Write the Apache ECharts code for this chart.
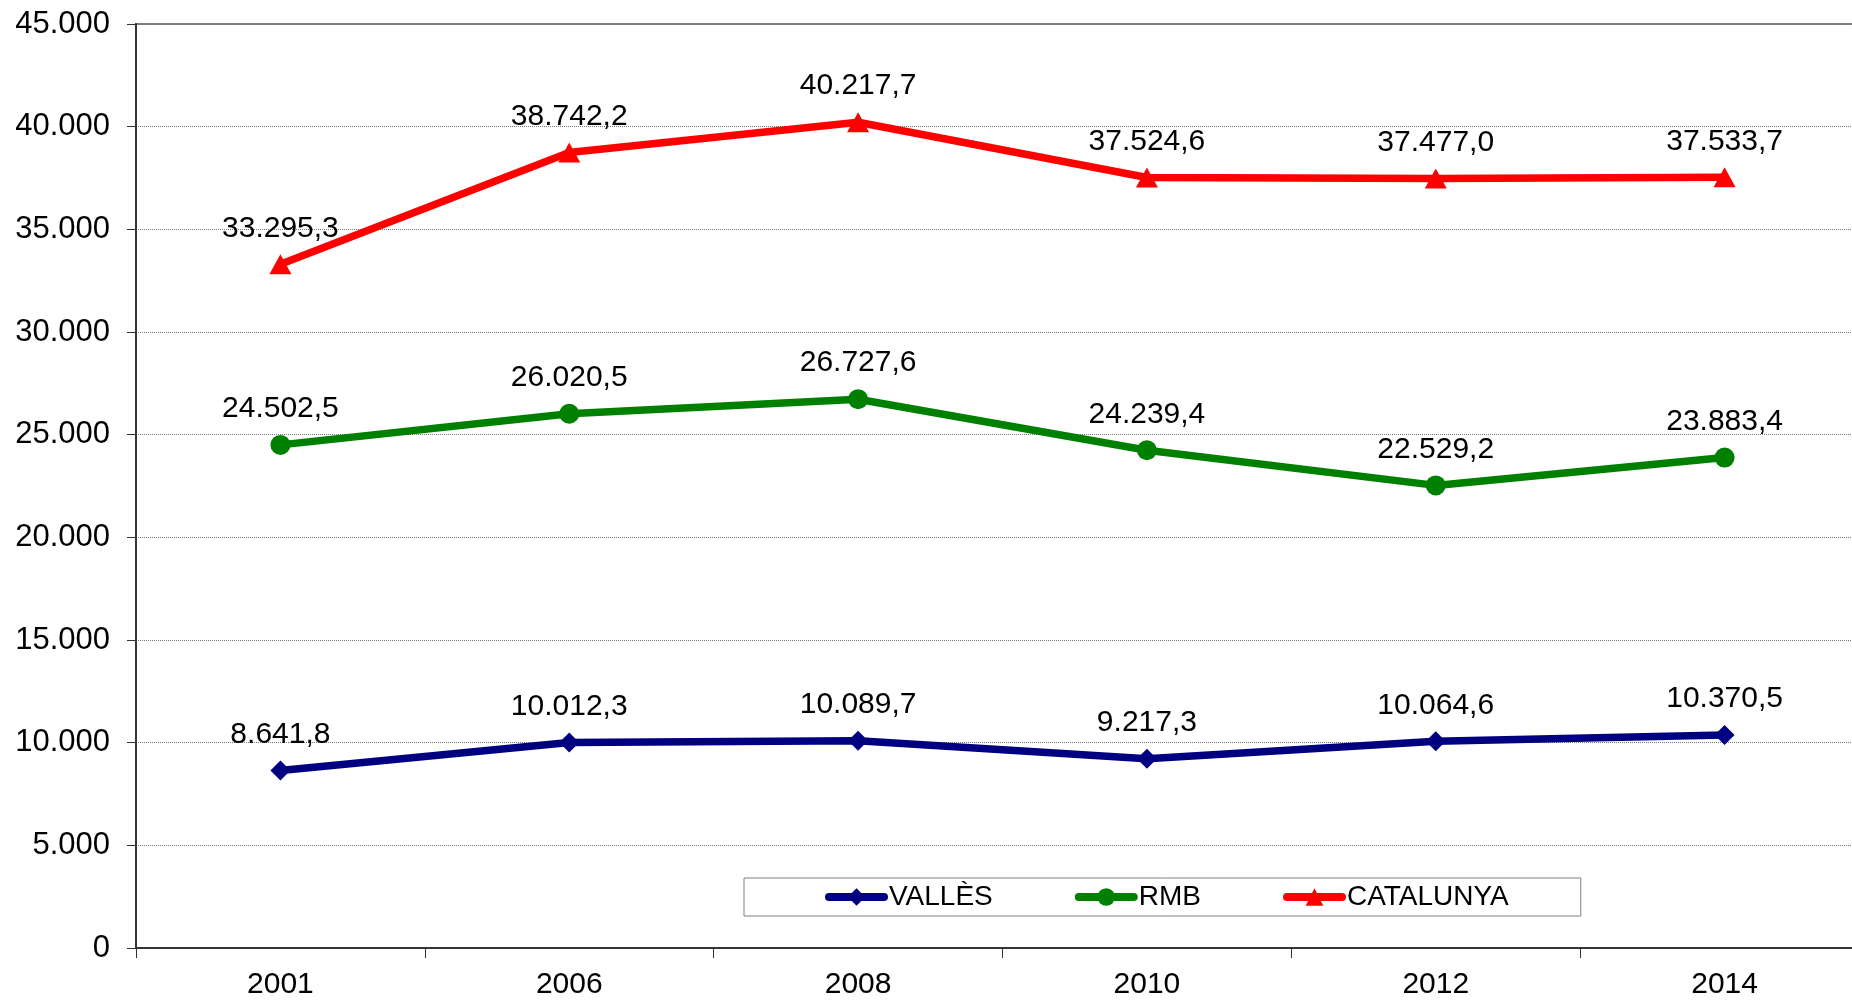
<!DOCTYPE html>
<html>
<head>
<meta charset="utf-8">
<script src="https://cdn.jsdelivr.net/npm/echarts@6/dist/echarts.min.js"></script>
<style>
  html, body { margin: 0; padding: 0; background: #fff; }
  #chart { width: 1852px; height: 1000px; }
</style>
</head>
<body>
<div id="chart"></div>
<script>
const years = ['2001', '2006', '2008', '2010', '2012', '2014']
const valles = [8641.8, 10012.3, 10089.7, 9217.3, 10064.6, 10370.5]
const rmb = [24502.5, 26020.5, 26727.6, 24239.4, 22529.2, 23883.4]
const catalunya = [33295.3, 38742.2, 40217.7, 37524.6, 37477.0, 37533.7]

const FONT = "'Liberation Sans', Arial, sans-serif"

// Spanish style number: 12.345,6
function fmt(v, decimals) {
  const parts = v.toFixed(decimals).split('.')
  const intPart = parts[0].replace(/\B(?=(\d{3})+(?!\d))/g, '.')
  return parts.length > 1 ? intPart + ',' + parts[1] : intPart
}

function lineSeries(name, data, color, symbol, size) {
  return {
    name,
    type: 'line',
    data,
    symbol,
    symbolSize: size,
    showAllSymbol: true,
    lineStyle: { color, width: 7.5 },
    itemStyle: { color },
    label: {
      show: true,
      position: 'top',
      distance: 11,
      color: '#000',
      fontFamily: FONT,
      fontSize: 30,
      formatter: (p) => fmt(p.value, 1)
    },
    emphasis: { disabled: true }
  }
}

const chart = echarts.init(document.getElementById('chart'), null, { renderer: 'canvas' })
chart.setOption({
  animation: false,
  backgroundColor: '#fff',
  grid: {
    // plot area runs slightly past the right edge of the picture
    left: 136, top: 24, bottom: 52, width: 1733,
    outerBoundsMode: 'none',
    containLabel: false,
    show: true, borderColor: '#808080', borderWidth: 2, backgroundColor: 'transparent'
  },
  legend: {
    left: 744,
    top: 878,
    padding: [5, 72, 5, 81],
    itemGap: 82,
    itemWidth: 55,
    itemHeight: 22,
    borderColor: '#808080',
    borderWidth: 1,
    backgroundColor: '#fff',
    lineStyle: { width: 8, cap: 'round' },
    textStyle: { fontFamily: FONT, fontSize: 28, color: '#000' },
    data: ['VALLÈS', 'RMB', 'CATALUNYA']
  },
  xAxis: {
    type: 'category',
    data: years,
    boundaryGap: true,
    axisLine: { lineStyle: { color: '#333', width: 2 } },
    axisTick: { show: true, length: 10, lineStyle: { color: '#333', width: 1 } },
    axisLabel: { color: '#000', fontFamily: FONT, fontSize: 30, margin: 22 },
    splitLine: { show: false }
  },
  yAxis: {
    type: 'value',
    min: 0,
    max: 45000,
    interval: 5000,
    axisLine: { show: true, lineStyle: { color: '#333', width: 2 } },
    axisTick: { show: true, length: 9, lineStyle: { color: '#333', width: 1 } },
    axisLabel: { color: '#000', fontFamily: FONT, fontSize: 31, margin: 26, formatter: (v) => fmt(v, 0) },
    splitLine: { show: true, lineStyle: { color: '#777', width: 1, type: 'dotted' } }
  },
  series: [
    lineSeries('VALLÈS', valles, '#000080', 'diamond', [20, 20]),
    lineSeries('RMB', rmb, '#008000', 'circle', 20),
    lineSeries('CATALUNYA', catalunya, '#ff0000', 'triangle', [22, 20])
  ]
})
</script>
</body>
</html>
